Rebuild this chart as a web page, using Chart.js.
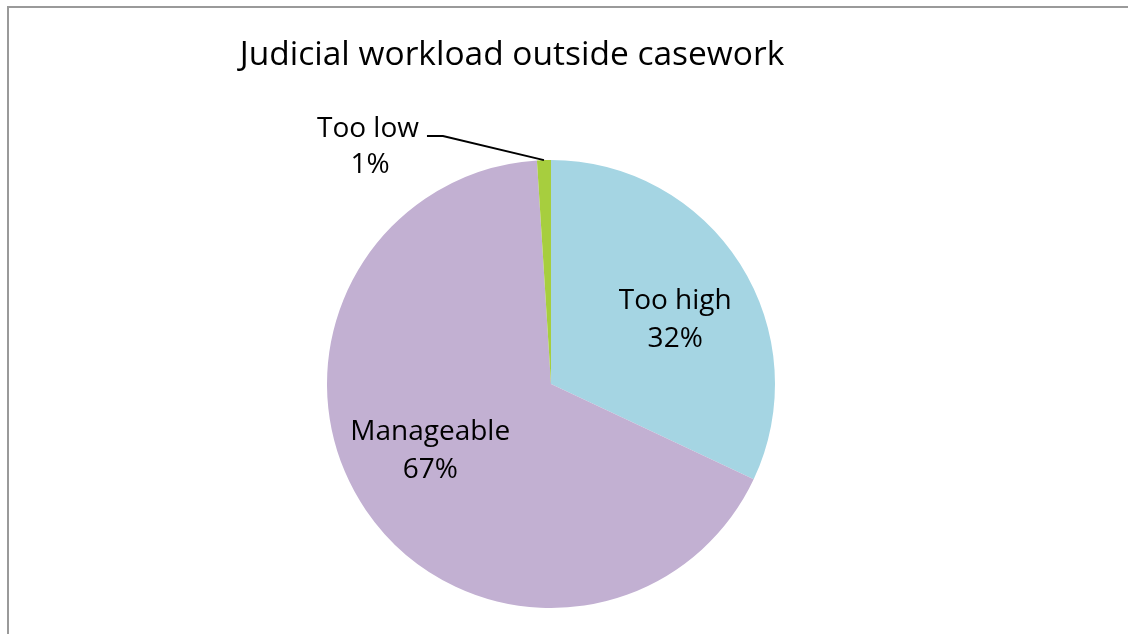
<!DOCTYPE html>
<html>
<head>
<meta charset="utf-8">
<script src="https://cdn.jsdelivr.net/npm/chart.js@4.4.0/dist/chart.umd.min.js"></script>
<style>
  html, body { margin: 0; padding: 0; background: #fff; }
  #frame {
    position: absolute; left: 7px; top: 6px; right: 0; bottom: 0;
    border-left: 2px solid #9a9a9a; border-top: 2px solid #9a9a9a;
  }
  #pieChart { position: absolute; left: 0; top: 0; }
</style>
</head>
<body>
<div id="frame"></div>
<canvas id="pieChart" width="1128" height="634"></canvas>
<script>
// data
const categories = ['Too high', 'Manageable', 'Too low'];
const shares = [32, 67, 1];
const sliceColors = ['#a5d5e3', '#c2b0d2', '#a7ce3e'];
const chartTitle = 'Judicial workload outside casework';

const FONT = '"Open Sans", "Liberation Sans", sans-serif';

// draws title, inside labels and the leader-line label for the small slice
const sliceLabels = {
    id: 'sliceLabels',
    afterDatasetsDraw(chart, args, opts) {
        const { ctx } = chart;
        const meta = chart.getDatasetMeta(0);
        ctx.save();

        ctx.fillStyle = '#000';
        ctx.textAlign = 'center';
        ctx.textBaseline = 'alphabetic';
        ctx.font = '33.5px ' + FONT;
        ctx.fillText(chartTitle, 512, 65);

        ctx.font = '28px ' + FONT;
        meta.data.forEach((arc, i) => {
            const { x, y, startAngle, endAngle, outerRadius } =
                arc.getProps(['x', 'y', 'startAngle', 'endAngle', 'outerRadius'], true);
            const mid = (startAngle + endAngle) / 2;
            const text1 = categories[i];
            const text2 = shares[i] + '%';

            if (shares[i] < 5) {
                // outside label with leader line
                const px = x + Math.cos(mid) * outerRadius;
                const py = y + Math.sin(mid) * outerRadius;
                ctx.beginPath();
                ctx.strokeStyle = '#000';
                ctx.lineWidth = 2;
                ctx.moveTo(px - 117, py - 24);
                ctx.lineTo(px - 101, py - 24);
                ctx.lineTo(px, py);
                ctx.stroke();
                ctx.fillText(text1, px - 176, py - 23);
                ctx.fillText(text2, px - 174, py + 13);
            } else {
                const off = opts.offsets[i] || [0, 0];
                const cx = x + Math.cos(mid) * outerRadius * 0.625 + off[0];
                const cy = y + Math.sin(mid) * outerRadius * 0.625 + off[1];
                ctx.fillText(text1, cx, cy - 9);
                ctx.fillText(text2, cx, cy + 29);
            }
        });
        ctx.restore();
    }
};

const config = {
    type: 'pie',
    data: {
        labels: categories,
        datasets: [{
            data: shares,
            backgroundColor: sliceColors,
            borderWidth: 0
        }]
    },
    options: {
        responsive: false,
        animation: false,
        layout: {
            padding: { left: 327, right: 353, top: 160, bottom: 26 }
        },
        plugins: {
            legend: { display: false },
            tooltip: { enabled: false },
            sliceLabels: { offsets: [[6, 9], [-5, -14]] }
        }
    },
    plugins: [sliceLabels]
};

const myChart = new Chart(document.getElementById('pieChart'), config);
</script>
</body>
</html>
